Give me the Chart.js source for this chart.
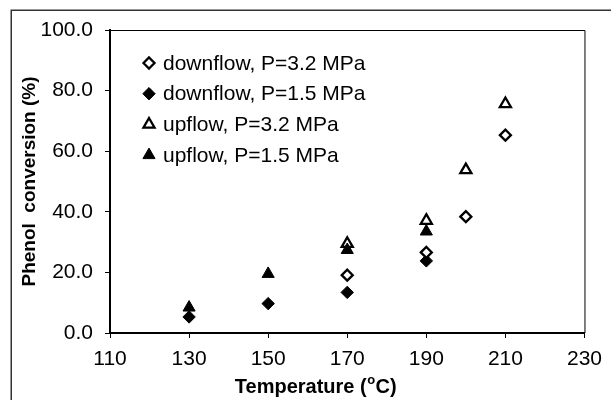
<!DOCTYPE html>
<html lang="en">
<head>
    <meta charset="UTF-8">
    <title>Phenol conversion vs temperature</title>
    <script src="https://cdn.jsdelivr.net/npm/chart.js"></script>
    <style>
        body {
            margin: 0;
            padding: 0;
            background: #fff;
        }

        .chart-box {
            width: 611px;
            height: 400px;
        }
    </style>
</head>
<body>
    <div class="chart-box">
        <canvas id="conversionChart"></canvas>
    </div>

    <script>
        // Temperature (oC) and phenol conversion (%) for each run
        const downHighT = [170, 190, 200, 210];
        const downHighP = [19.1, 26.6, 38.4, 65.3];
        const downLowT = [130, 150, 170, 190];
        const downLowP = [5.3, 9.7, 13.4, 23.8];
        const upHighT = [170, 190, 200, 210];
        const upHighP = [29.5, 37.1, 53.8, 75.6];
        const upLowT = [130, 150, 170, 190];
        const upLowP = [8.4, 19.5, 27.4, 33.5];

        const seriesLabels = [
            'downflow, P=3.2 MPa',
            'downflow, P=1.5 MPa',
            'upflow, P=3.2 MPa',
            'upflow, P=1.5 MPa'
        ];

        const xTicks = [110, 130, 150, 170, 190, 210, 230];
        const yTicks = [0, 20, 40, 60, 80, 100];

        const FONT = '"Liberation Sans", Arial, sans-serif';

        function toPoints(xs, ys) {
            return xs.map((x, i) => ({ x: x, y: ys[i] }));
        }

        // white frame around the whole figure plus the box round the plot area
        const framePlugin = {
            id: 'frame',
            beforeDraw(chart) {
                const ctx = chart.ctx;
                ctx.save();
                ctx.fillStyle = '#fff';
                ctx.fillRect(0, 0, chart.width, chart.height);
                ctx.strokeStyle = '#333';
                ctx.lineWidth = 1.5;
                ctx.strokeRect(11.25, 10.25, chart.width + 20, chart.height + 20);
                ctx.restore();
            },
            afterDatasetsDraw(chart) {
                const a = chart.chartArea;
                const ctx = chart.ctx;
                ctx.save();
                ctx.strokeStyle = '#000';
                ctx.lineWidth = 1;
                ctx.beginPath();
                ctx.moveTo(a.left, a.top + 0.5);
                ctx.lineTo(a.right + 0.5, a.top + 0.5);
                ctx.lineTo(a.right + 0.5, a.bottom);
                ctx.stroke();
                ctx.restore();
            }
        };

        // legend in the upper left of the plot and the x axis title with superscript
        const annotatePlugin = {
            id: 'annotate',
            afterDraw(chart) {
                const a = chart.chartArea;
                const ctx = chart.ctx;
                ctx.save();

                ctx.font = '21px ' + FONT;
                ctx.textBaseline = 'middle';
                ctx.fillStyle = '#000';
                chart.data.datasets.forEach((ds, i) => {
                    const y = a.top + 33 + i * 30.7;
                    const x = a.left + 39;
                    ctx.fillStyle = ds.pointBackgroundColor;
                    ctx.strokeStyle = ds.pointBorderColor;
                    ctx.lineWidth = ds.pointBorderWidth;
                    Chart.helpers.drawPoint(ctx, {
                        pointStyle: ds.pointStyle,
                        radius: ds.pointRadius,
                        borderWidth: ds.pointBorderWidth
                    }, x, y);
                    ctx.fillStyle = '#000';
                    ctx.fillText(ds.label, a.left + 53, y + 1);
                });

                // Temperature (oC)
                const main1 = 'Temperature (';
                const sup = 'o';
                const main2 = 'C)';
                ctx.textBaseline = 'alphabetic';
                ctx.font = 'bold 20px ' + FONT;
                const w1 = ctx.measureText(main1).width;
                const w3 = ctx.measureText(main2).width;
                ctx.font = 'bold 13px ' + FONT;
                const w2 = ctx.measureText(sup).width;
                const cx = (a.left + a.right) / 2 - 32;
                let x = cx - (w1 + w2 + w3) / 2;
                const base = 393;
                ctx.font = 'bold 20px ' + FONT;
                ctx.fillText(main1, x, base);
                x += w1 + 0.5;
                ctx.font = 'bold 13px ' + FONT;
                ctx.fillText(sup, x, base - 9);
                x += w2 + 0.5;
                ctx.font = 'bold 20px ' + FONT;
                ctx.fillText(main2, x, base);

                ctx.restore();
            }
        };

        const openStyle = {
            pointBackgroundColor: '#fff',
            pointBorderColor: '#000',
            pointBorderWidth: 2.3
        };
        const solidStyle = {
            pointBackgroundColor: '#000',
            pointBorderColor: '#000',
            pointBorderWidth: 1
        };

        const conversionChart = new Chart(document.getElementById('conversionChart'), {
            type: 'scatter',
            data: {
                datasets: [
                    Object.assign({
                        label: seriesLabels[0],
                        data: toPoints(downHighT, downHighP),
                        pointStyle: 'rectRot',
                        pointRadius: 5.5,
                        order: 1
                    }, openStyle),
                    Object.assign({
                        label: seriesLabels[1],
                        data: toPoints(downLowT, downLowP),
                        pointStyle: 'rectRot',
                        pointRadius: 6.2,
                        order: 2
                    }, solidStyle),
                    Object.assign({
                        label: seriesLabels[2],
                        data: toPoints(upHighT, upHighP),
                        pointStyle: 'triangle',
                        pointRadius: 6.4,
                        order: 4
                    }, openStyle),
                    Object.assign({
                        label: seriesLabels[3],
                        data: toPoints(upLowT, upLowP),
                        pointStyle: 'triangle',
                        pointRadius: 7,
                        order: 3
                    }, solidStyle)
                ]
            },
            options: {
                responsive: true,
                maintainAspectRatio: false,
                animation: false,
                layout: {
                    padding: { left: 0, top: 30, right: 19, bottom: 0 }
                },
                plugins: {
                    legend: { display: false },
                    tooltip: { enabled: false }
                },
                scales: {
                    x: {
                        type: 'linear',
                        min: 110,
                        max: 230,
                        afterFit(scale) { scale.height = 67; },
                        afterBuildTicks(scale) {
                            scale.ticks = xTicks.map(v => ({ value: v }));
                        },
                        ticks: {
                            color: '#000',
                            padding: 9,
                            maxRotation: 0,
                            font: { family: FONT, size: 21 }
                        },
                        grid: {
                            drawOnChartArea: false,
                            drawTicks: true,
                            tickLength: 5,
                            tickWidth: 1,
                            color: '#000'
                        },
                        border: { display: true, color: '#000', width: 2 }
                    },
                    y: {
                        min: 0,
                        max: 100,
                        afterFit(scale) { scale.width = 110; },
                        afterBuildTicks(scale) {
                            scale.ticks = yTicks.map(v => ({ value: v }));
                        },
                        ticks: {
                            color: '#000',
                            padding: 12,
                            font: { family: FONT, size: 21 },
                            callback: v => v.toFixed(1)
                        },
                        grid: {
                            drawOnChartArea: false,
                            drawTicks: true,
                            tickLength: 5,
                            tickWidth: 1,
                            color: '#000'
                        },
                        border: { display: true, color: '#000', width: 2 },
                        title: {
                            display: true,
                            text: 'Phenol  conversion (%)',
                            color: '#000',
                            font: { family: FONT, size: 19, weight: 'bold' },
                            padding: { top: 18, bottom: 0 }
                        }
                    }
                }
            },
            plugins: [framePlugin, annotatePlugin]
        });
    </script>
</body>
</html>
